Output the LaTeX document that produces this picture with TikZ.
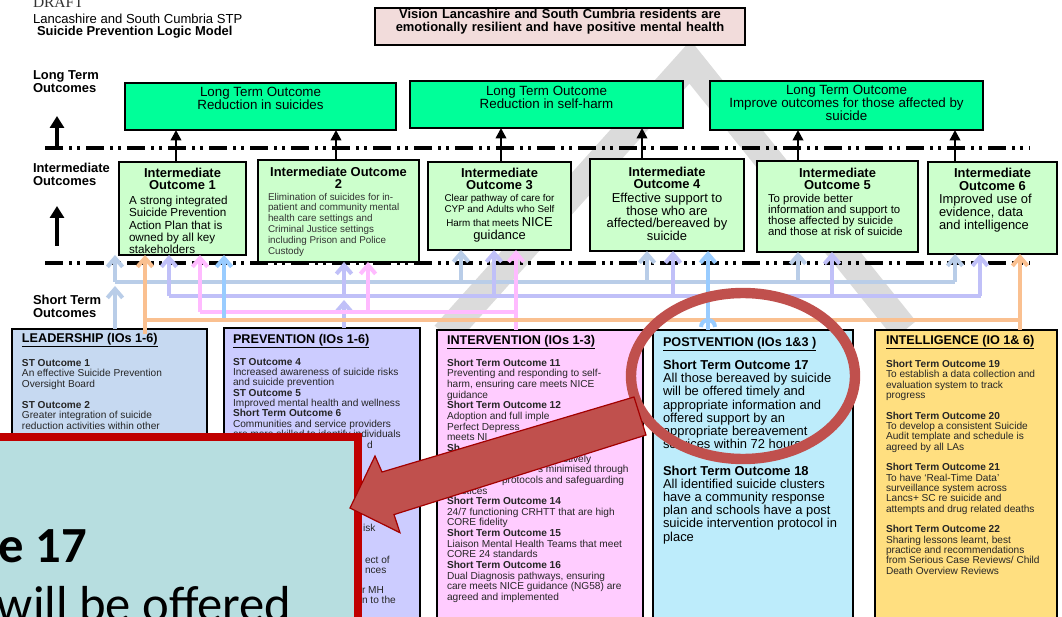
\documentclass[tikz,border=0pt]{standalone}
\usepackage{fontspec}
\setmainfont{Liberation Sans}
\newfontfamily\calfont{Carlito}
\newfontfamily\serfont{Liberation Serif}
\usetikzlibrary{positioning,arrows.meta,calc,fit}

\definecolor{ltgreen}{HTML}{00FF99}
\definecolor{iogreen}{HTML}{CCFFCC}
\definecolor{visionpink}{HTML}{F2DCDB}
\definecolor{leadblue}{HTML}{C6D9F1}
\definecolor{prevlav}{HTML}{CCCCFF}
\definecolor{intpink}{HTML}{FFCCFF}
\definecolor{postcyan}{HTML}{BDECFB}
\definecolor{intelyel}{HTML}{FFDF80}
\definecolor{clead}{HTML}{B9CDE8}
\definecolor{cprev}{HTML}{C0C0F8}
\definecolor{cint}{HTML}{FFBBFF}
\definecolor{cpost}{HTML}{99CCFF}
\definecolor{cintel}{HTML}{FAC090}
\definecolor{calloutfill}{HTML}{B7DEE0}
\definecolor{calloutred}{HTML}{C00000}
\definecolor{markred}{HTML}{C0504D}

\newcommand{\fsz}[2]{\fontsize{#1}{#2}\selectfont}

\begin{document}
\begin{tikzpicture}[
    x=0.25mm, y=-0.25mm,
    every node/.style={inner sep=0pt, outer sep=0pt},
    box/.style={draw=black, line width=0.35mm},
    ltbox/.style={box, fill=ltgreen},
    iobox/.style={box, fill=iogreen},
    sidelabel/.style={font=\bfseries\fsz{9.2}{9.3}, align=left, anchor=north west},
    lttext/.style={font=\fsz{9.5}{9.3}, align=center, anchor=north},
    iohead/.style={font=\bfseries\fsz{9.2}{8.9}, align=center, anchor=north},
    colhead/.style={font=\bfseries\fsz{9}{9}, anchor=north west},
    colbody/.style={font=\fsz{7.2}{7.35}, align=left, anchor=north west, text=black!85},
    bus/.style={line width=1mm},
    upar/.style={bus, -{Straight Barb[length=2.2mm,width=3.8mm]}},
    blkar/.style={line width=0.6mm, -{Triangle[length=2.6mm,width=2.6mm]}},
    bigar/.style={line width=1mm, -{Triangle[length=3mm,width=3.5mm]}},
    dashdot/.style={line width=0.8mm, dash pattern=on 4.5mm off 1.5mm on 0.75mm off 1.25mm on 0.75mm off 1.5mm},
    wm/.style={line width=7mm, draw=black!14},
  ]
  \useasboundingbox (0,0) rectangle (1062,617);
  \fill[white] (0,0) rectangle (1062,617);

  % watermark
  \draw[wm] (445,335) -- (690,62) -- (905,330);

  % title
  \node[font=\serfont\fsz{11}{12}, text=black!80, anchor=base west] (draft) at (33,8) {DRAFT};
  \node[font=\fsz{9.3}{10}, anchor=base west] (org) at (33,24) {Lancashire and South Cumbria STP};
  \node[font=\bfseries\fsz{9.2}{10}, anchor=base west] (title) at (37,36) {Suicide Prevention Logic Model};
  \node[box, fill=visionpink, fit={(375,8) (745,45)}, font=\bfseries\fsz{9.2}{9.3}, align=center] (vision)
    {Vision Lancashire and South Cumbria residents are\\emotionally resilient and have positive mental health};

  % row labels
  \node[sidelabel] (ltlab) at (33,71) {Long Term\\Outcomes};
  \node[sidelabel] (iolab) at (33,163) {Intermediate\\Outcomes};
  \node[sidelabel] (stlab) at (33,295) {Short Term\\Outcomes};

  % dash-dot rules and side arrows
  \coordinate (rule1l) at (45,148);  \coordinate (rule1r) at (1030,148);
  \coordinate (rule2l) at (45,263);  \coordinate (rule2r) at (1030,263);
  \draw[dashdot] (rule1l) -- (rule1r);
  \draw[dashdot] (rule2l) -- (rule2r);
  \coordinate (up1s) at (57,147); \coordinate (up1e) at (57,116);
  \coordinate (up2s) at (57,246); \coordinate (up2e) at (57,206);
  \draw[bigar] (up1s) -- (up1e);
  \draw[bigar] (up2s) -- (up2e);

  % long term outcomes
  \node[ltbox, fit={(125,83) (396,130)}] (lt1) {};
  \node[lttext] (lt1t) at (260.5,87) {Long Term Outcome\\Reduction in suicides};
  \node[ltbox, fit={(410,81) (683,128)}] (lt2) {};
  \node[lttext] (lt2t) at (546.5,86) {Long Term Outcome\\Reduction in self-harm};
  \node[ltbox, fit={(710,81) (983,130)}] (lt3) {};
  \node[lttext] (lt3t) at (846.5,85) {Long Term Outcome\\Improve outcomes for those affected by\\suicide};

  % intermediate outcomes
  \node[iobox, fit={(119,162) (246,255)}] (io1) {};
  \node[iohead] (io1h) at (182.5,168) {Intermediate\\Outcome 1};
  \node[font=\fsz{8.3}{8.8}, align=left, anchor=north west] (io1b) at (129,196)
    {A strong integrated\\Suicide Prevention\\Action Plan that is\\owned by all key\\stakeholders};

  \node[iobox, fit={(258,160) (419,262)}] (io2) {};
  \node[iohead] (io2h) at (338.5,167) {Intermediate Outcome\\2};
  \node[font=\fsz{7}{7.7}, align=left, anchor=north west, text=black!80] (io2b) at (268,193)
    {Elimination of suicides for in-\\patient and community mental\\health care settings and\\Criminal Justice settings\\including Prison and Police\\Custody};

  \node[iobox, fit={(428,162) (571,250)}] (io3) {};
  \node[iohead] (io3h) at (499.5,168) {Intermediate\\Outcome 3};
  \node[font=\fsz{7}{7}, anchor=base] (io3b1) at (499.5,202) {Clear pathway of care for};
  \node[font=\fsz{7}{7}, anchor=base] (io3b2) at (499.5,212.5) {CYP and Adults who Self};
  \node[font=\fsz{7}{7}, anchor=base] (io3b3) at (499.5,226.5) {Harm that meets {\fsz{9.2}{9}NICE}};
  \node[font=\fsz{9.2}{9}, anchor=base] (io3b4) at (499.5,239.5) {guidance};

  \node[iobox, fit={(590,159) (744,251)}] (io4) {};
  \node[iohead] (io4h) at (667,167) {Intermediate\\Outcome 4};
  \node[font=\fsz{9.2}{9.1}, align=center, anchor=north] (io4b) at (667,193)
    {Effective support to\\those who are\\affected/bereaved by\\suicide};

  \node[iobox, fit={(757,161) (918,252)}] (io5) {};
  \node[iohead] (io5h) at (837.5,168) {Intermediate\\Outcome 5};
  \node[font=\fsz{8.1}{7.9}, align=left, anchor=north west] (io5b) at (768,194)
    {To provide better\\information and support to\\those affected by suicide\\and those at risk of suicide};

  \node[iobox, fit={(928,162) (1057,254)}] (io6) {};
  \node[iohead] (io6h) at (992.5,168.5) {Intermediate\\Outcome 6};
  \node[font=\fsz{9.2}{9.1}, align=left, anchor=north west] (io6b) at (939,194.5)
    {Improved use of\\evidence, data\\and intelligence};

  % upward links to long term outcomes
  \foreach \xx/\a/\b in {176/io1/lt1, 336/io2/lt1, 501/io3/lt2, 642/io4/lt2, 798/io5/lt3, 955/io6/lt3}
    \draw[blkar] (\xx,0 |- \a.north) -- (\xx,0 |- \b.south);

  % short term outcome columns
  \node[box, fill=leadblue, fit={(12,329) (207,660)}] (lead) {};
  \node[colhead] (leadh) at (22,333) {\underline{LEADERSHIP (IOs 1-6)}};
  \node[colbody, font=\fsz{7.2}{7.5}] (leadt) at (22,359)
    {\textbf{ST Outcome 1}\\An effective Suicide Prevention\\Oversight Board\\[7.5pt]
     \textbf{ST Outcome 2}\\Greater integration of suicide\\reduction activities within other};

  \node[box, fill=prevlav, fit={(224,328) (420,660)}] (prev) {};
  \node[colhead] (prevh) at (233,334) {\underline{PREVENTION (IOs 1-6)}};
  \node[colbody] (prevt) at (233,358)
    {\textbf{ST Outcome 4}\\Increased awareness of suicide risks\\and suicide prevention\\
     \textbf{ST Outcome 5}\\Improved mental health and wellness\\\textbf{Short Term Outcome 6}\\
     Communities and service providers\\are more skilled to identify individuals};
  \foreach \xx/\yy/\tx in {367/448.5/d, 363/531.5/isk, 365/563.5/ect of, 365/573.5/nces, 362/593.5/r MH, 362/603.5/n to the}
    \node[colbody, anchor=base west] at (\xx,\yy) {\tx};

  \node[box, fill=intpink, fit={(437,330) (643,660)}] (int) {};
  \node[colhead] (inth) at (447,335) {\underline{INTERVENTION (IOs 1-3)}};
  \node[colbody, font=\fsz{7.2}{7.57}] (intt) at (447,359)
    {\textbf{Short Term Outcome 11}\\Preventing and responding to self-\\harm, ensuring care meets NICE\\guidance\\
     \textbf{Short Term Outcome 12}\\Adoption and full imple\\Perfect Depress\\meets NI\\\textbf{Sh}\\
     \hspace*{29mm}ctively\\\hspace*{22.75mm}s minimised through\\\hspace*{13.75mm}protocols and safeguarding\\practices\\
     \textbf{Short Term Outcome 14}\\24/7 functioning CRHTT that are high\\CORE fidelity\\
     \textbf{Short Term Outcome 15}\\Liaison Mental Health Teams that meet\\CORE 24 standards\\
     \textbf{Short Term Outcome 16}\\Dual Diagnosis pathways, ensuring\\care meets NICE guidance (NG58) are\\agreed and implemented};

  \node[box, fill=postcyan, fit={(653,330) (853,660)}] (post) {};
  \node[colhead] (posth) at (663,337) {\underline{POSTVENTION (IOs 1\&3 )}};
  \node[colbody, font=\fsz{9.2}{9.4}, text=black] (postt) at (663,360)
    {\textbf{Short Term Outcome 17}\\All those bereaved by suicide\\will be offered timely and\\appropriate information and\\
     offered support by an\\appropriate bereavement\\services within 72 hours.\\[9.4pt]
     \textbf{Short Term Outcome 18}\\All identified suicide clusters\\have a community response\\
     plan and schools have a post\\suicide intervention protocol in\\place};

  \node[box, fill=intelyel, fit={(875,330) (1057,660)}] (intel) {};
  \node[colhead] (intelh) at (886,335) {\underline{INTELLIGENCE (IO 1\& 6)}};
  \node[colbody] (intelt) at (886,360)
    {\textbf{Short Term Outcome 19}\\To establish a data collection and\\evaluation system to track\\progress\\[7.35pt]
     \textbf{Short Term Outcome 20}\\To develop a consistent Suicide\\Audit template and schedule is\\agreed by all LAs\\[7.35pt]
     \textbf{Short Term Outcome 21}\\To have ‘Real-Time Data’\\surveillance system across\\Lancs+ SC re suicide and\\
     attempts and drug related deaths\\[7.35pt]
     \textbf{Short Term Outcome 22}\\Sharing lessons learnt, best\\practice and recommendations\\
     from Serious Case Reviews/ Child\\Death Overview Reviews};

  % links from columns to intermediate outcomes
  \draw[upar, clead] (115,0 |- lead.north) -- (115,286);
  \draw[bus, clead] (115,282) -- (955,282);
  \foreach \xx/\io in {115/io1, 461/io3, 647/io4, 798/io5, 955/io6}
    \draw[upar, clead] (\xx,282) -- (\xx,0 |- \io.south);

  \draw[upar, cprev] (344,0 |- prev.north) -- (344,300);
  \draw[bus, cprev] (169,296) -- (981,296);
  \foreach \xx/\io in {169/io1, 344/io2, 494/io3, 673/io4, 832/io5, 980/io6}
    \draw[upar, cprev] (\xx,296) -- (\xx,0 |- \io.south);

  \draw[bus, cint] (200,312) -- (516,312);
  \draw[upar, cint] (516,0 |- int.north) -- (516,0 |- io3.south);
  \foreach \xx/\io in {200/io1, 368/io2}
    \draw[upar, cint] (\xx,312) -- (\xx,0 |- \io.south);

  \draw[bus, cpost] (708,320) -- (224,320);
  \draw[upar, cpost] (224,320) -- (224,0 |- io1.south);
  \draw[upar, cpost] (708,0 |- post.north) -- (708,0 |- io4.south);

  \draw[bus, cintel] (145,334) -- (145,320) -- (1020,320);
  \draw[upar, cintel] (145,320) -- (145,0 |- io1.south);
  \draw[upar, cintel] (1020,0 |- intel.north) -- (1020,0 |- io6.south);
  \draw[bus, cpost] (701,327) arc[start angle=180, end angle=360, radius=7];

  % highlight
  \draw[markred, line width=2.6mm] (743,376) ellipse [x radius=112, y radius=83];
  \node[fill=calloutfill, draw=calloutred, line width=2mm, fit={(-30,437) (358,680)}] (callout) {};
  \node[font=\calfont\bfseries\fsz{36}{40}, anchor=base west] (cot1) at (-1,562) {e 17};
  \node[font=\calfont\fsz{36}{40}, anchor=base west] (cot2) at (-3,621) {will be offered};
  \filldraw[fill=markred, draw=calloutred!85!black, line width=0.3mm]
    (634,397) -- (382,472) -- (375,456) -- (350,508) -- (400,532.7) -- (394,514.6) -- (646,435) -- cycle;
\end{tikzpicture}
\end{document}
